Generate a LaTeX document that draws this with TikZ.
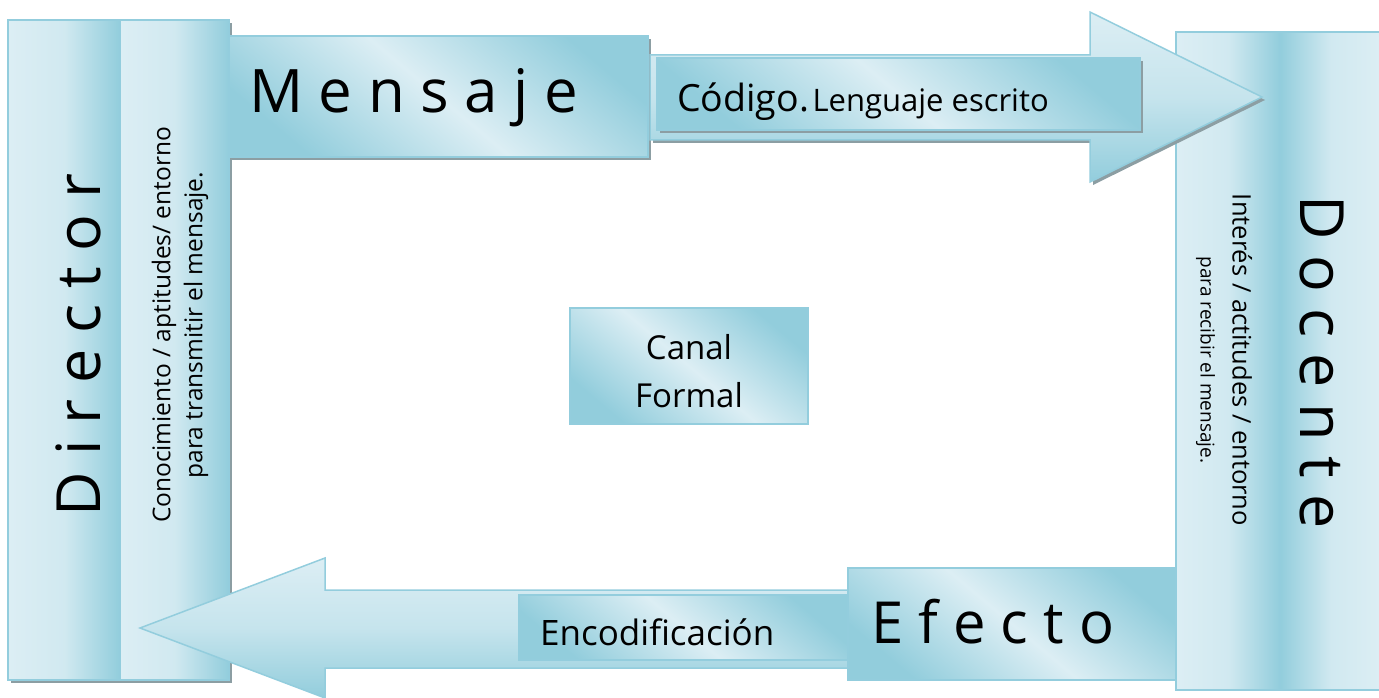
\documentclass[tikz,border=0pt]{standalone}
\usepackage{fontspec}
\setmainfont{Open Sans}
\usepackage{tikz}
\usetikzlibrary{shadows}
\usetikzlibrary{calc}
\definecolor{pale}{HTML}{DCEEF4}
\definecolor{deep}{HTML}{92CDDC}
\definecolor{edge}{HTML}{93CDDD}
\definecolor{shadowgray}{HTML}{8C9EA3}

\begin{document}
\begin{tikzpicture}[x=1pt,y=-1pt,
    col/.style={draw=edge, line width=1.5pt, left color=pale, right color=deep, middle color=pale!85!deep},
    colrev/.style={draw=edge, line width=1.5pt, left color=deep, right color=pale, middle color=pale!85!deep},
    box/.style={draw=edge, line width=1.5pt, top color=deep, bottom color=deep, middle color=pale, shading angle=-40},
    bigarrow/.style={draw=edge, line width=1.5pt, top color=pale, bottom color=deep, middle color=pale!70!deep},
    shadowed/.style={drop shadow={shadow xshift=3pt, shadow yshift=-3pt, fill=shadowgray, opacity=1}},
    spaced/.style={font=\fontsize{61}{70}\selectfont, inner sep=0pt}]
            \useasboundingbox (0,0) rectangle (1379,698);

            % Director
            \coordinate (D1) at (8,20);
            \coordinate (D2) at (120,20);
            \coordinate (D3) at (229,680);
            \coordinate (D4) at (120,680);
            \fill[shadowgray] ($(D1)+(3,3)$) rectangle ($(D3)+(3,3)$);
            \draw[col] (D1) rectangle (D4);
            \draw[col] (D2) rectangle (D3);
            \node[spaced, rotate=90] (director) at (78,345) {D i r e c t o r};
            \node[rotate=90, align=center, font=\fontsize{24.5}{32}\selectfont] (emisor) at (180,325)
                {Conocimiento / aptitudes/ entorno\\para transmitir el mensaje.};

            % Docente
            \coordinate (R1) at (1176,32);
            \coordinate (R2) at (1280,32);
            \coordinate (R3) at (1382,690);
            \coordinate (R4) at (1280,690);
            \draw[col] (R1) rectangle (R4);
            \draw[colrev] (R2) rectangle (R3);
            \node[spaced, rotate=-90] (docente) at (1322,362) {D o c e n t e};
            \node[rotate=-90, align=center, font=\fontsize{25.5}{32}\selectfont] (receptor) at (1224,360)
                {Interés / actitudes / entorno\\{\fontsize{19}{22}\selectfont para recibir el mensaje.}};

            % Mensaje
            \draw[box, shadowed] (229,36) rectangle (648,157);
            \node[spaced, anchor=base west, font=\fontsize{60}{70}\selectfont] (mensaje) at (249,113) {M e n s a j e};

            % top arrow
            \draw[bigarrow, shadowed] (650,55) -- (1090,55) -- (1090,12) -- (1262,97)
                -- (1090,182) -- (1090,140) -- (650,140) -- cycle;
            \draw[box, shadowed] (657,58) rectangle (1140,130);
            \node[anchor=base west, inner sep=0pt] (codigo) at (677,112)
                {{\fontsize{37.5}{40}\selectfont Código.} {\fontsize{31}{34}\selectfont Lenguaje escrito}};

            % bottom arrow
            \draw[bigarrow] (850,590) -- (325,590) -- (325,558) -- (140,628)
                -- (325,698) -- (325,668) -- (850,668) -- cycle;
            \draw[box] (519,595) rectangle (848,660);
            \node[anchor=base west, inner sep=0pt, font=\fontsize{35}{40}\selectfont] (encod) at (540,645) {Encodificación};

            % Efecto
            \draw[box] (848,568) rectangle (1176,680);
            \node[spaced, anchor=base west, font=\fontsize{58}{66}\selectfont] (efecto) at (871,643) {E f e c t o};

            % Canal
            \draw[box] (570,308) rectangle (808,424);
            \node[align=center, font=\fontsize{33}{48}\selectfont] (canal) at (689,371) {Canal\\Formal};
        \end{tikzpicture}
\end{document}
